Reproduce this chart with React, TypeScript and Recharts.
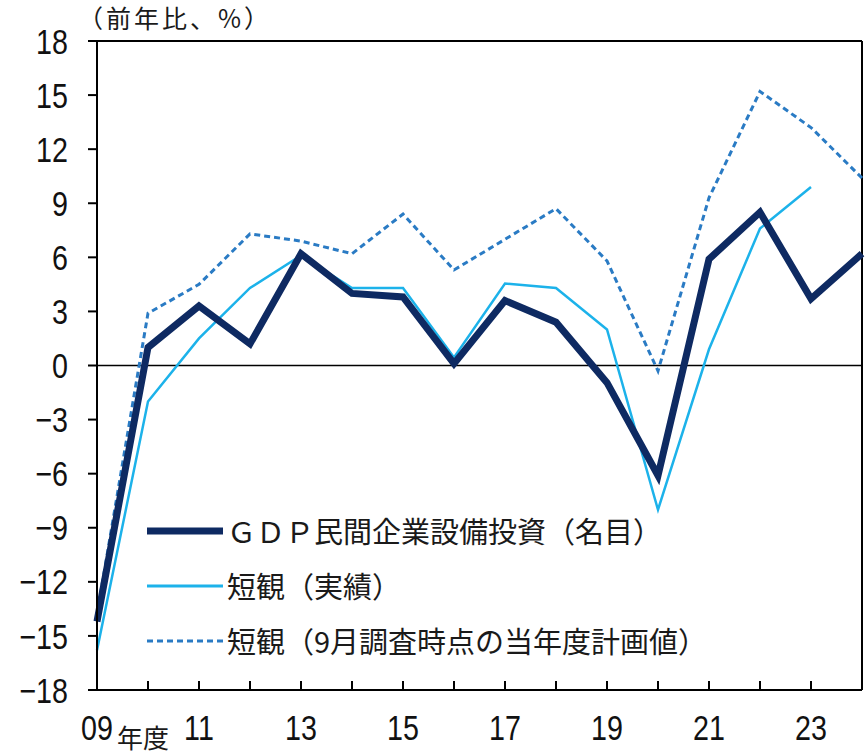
import { LineChart, Line, XAxis, YAxis, ReferenceLine, Legend } from 'recharts';

const years = [2009, 2010, 2011, 2012, 2013, 2014, 2015, 2016, 2017, 2018, 2019, 2020, 2021, 2022, 2023, 2024];
const gdpInvestment = [-14.2, 1.0, 3.3, 1.2, 6.2, 4.0, 3.8, 0.1, 3.6, 2.4, -0.95, -6.1, 5.9, 8.5, 3.7, 6.2];
const tankanActual = [-15.8, -2.0, 1.5, 4.3, 6.1, 4.3, 4.3, 0.45, 4.55, 4.3, 2.0, -8.0, 0.9, 7.6, 9.9, null];
const tankanPlan = [-13.8, 2.9, 4.5, 7.3, 6.9, 6.2, 8.4, 5.3, 7.0, 8.7, 5.8, -0.3, 9.3, 15.2, 13.2, 10.4];
const yTicks = [-18, -15, -12, -9, -6, -3, 0, 3, 6, 9, 12, 15, 18];

const data = years.map((year, i) => ({
  year,
  gdp: gdpInvestment[i],
  actual: tankanActual[i],
  plan: tankanPlan[i],
}));

const NAVY = '#0E2A62';
const SKY = '#1CB2EA';
const BLUE = '#2A7BC4';
const tickFont = "'Liberation Sans', Arial, sans-serif";
const cjkFont = "'Noto Sans CJK JP', sans-serif";

const legendItems = [
  { label: 'ＧＤＰ民間企業設備投資（名目）', color: NAVY, width: 7, dash: undefined },
  { label: '短観（実績）', color: SKY, width: 3, dash: undefined },
  { label: '短観（9月調査時点の当年度計画値）', color: BLUE, width: 3, dash: '6 4' },
];

function LegendBox() {
  return (
    <div style={{ fontFamily: cjkFont, fontSize: 29, color: '#1a1a1a' }}>
      {legendItems.map((item) => (
        <div key={item.label} style={{ display: 'flex', alignItems: 'center', height: 55 }}>
          <svg width={80} height={20} style={{ flex: 'none' }}>
            <line x1={0} y1={10} x2={76} y2={10} stroke={item.color} strokeWidth={item.width} strokeDasharray={item.dash} />
          </svg>
          <span style={{ whiteSpace: 'nowrap', lineHeight: 1 }}>{item.label}</span>
        </div>
      ))}
    </div>
  );
}

// condensed-looking tick text (narrow digits like the original)
function NarrowTick(props: any) {
  const { x, y, payload, tickFormatter, textAnchor, vertical } = props;
  const label = tickFormatter ? tickFormatter(payload.value) : payload.value;
  if (label === '') return null;
  return (
    <text
      x={x}
      y={y}
      dy={vertical ? '0.36em' : '0.71em'}
      textAnchor={textAnchor}
      fontFamily={tickFont}
      fontSize={35}
      fill="#111"
      transform={`translate(${x},${y}) scale(0.82,1) translate(${-x},${-y})`}
    >
      {label}
    </text>
  );
}

const fmtYear = (v: number) => (v % 2 === 1 ? String(v % 100).padStart(2, '0') : '');
const fmtPct = (v: number) => (v < 0 ? '\u2212' + Math.abs(v) : String(v));

export default function App() {
  return (
    <div style={{ position: 'absolute', left: 0, top: 0, width: 865, height: 754, background: '#fff' }}>
      <div style={{ position: 'absolute', left: 78, top: 2, fontFamily: cjkFont, fontSize: 25, letterSpacing: 3, color: '#1a1a1a', lineHeight: 1.2 }}>
        （前年比、%）
      </div>
      <div style={{ position: 'absolute', left: 117, top: 724, fontFamily: cjkFont, fontSize: 26, color: '#1a1a1a', lineHeight: 1 }}>
        年度
      </div>
      <LineChart width={865} height={754} data={data} margin={{ top: 41, right: 3, bottom: 0, left: 0 }}>
        <XAxis
          dataKey="year"
          type="number"
          domain={[2009, 2024]}
          ticks={years}
          interval={0}
          tickFormatter={fmtYear}
          height={64}
          tickSize={-9}
          tickMargin={34}
          axisLine={{ stroke: '#000', strokeWidth: 2 }}
          tickLine={{ stroke: '#000', strokeWidth: 2 }}
          tick={<NarrowTick />}
        />
        <YAxis
          type="number"
          domain={[-18, 18]}
          ticks={yTicks}
          interval={0}
          tickFormatter={fmtPct}
          width={97}
          tickSize={9}
          tickMargin={20}
          axisLine={{ stroke: '#000', strokeWidth: 2 }}
          tickLine={{ stroke: '#000', strokeWidth: 2 }}
          tick={<NarrowTick vertical />}
        />
        <ReferenceLine y={18} stroke="#000" strokeWidth={2} />
        <ReferenceLine x={2024} stroke="#000" strokeWidth={2} />
        <ReferenceLine y={0} stroke="#000" strokeWidth={1.5} />
        <Line dataKey="plan" stroke={BLUE} strokeWidth={3} strokeDasharray="6 4" dot={false} isAnimationActive={false} />
        <Line dataKey="actual" stroke={SKY} strokeWidth={2.5} dot={false} isAnimationActive={false} />
        <Line dataKey="gdp" stroke={NAVY} strokeWidth={7} dot={false} isAnimationActive={false} />
        <Legend
          layout="vertical"
          verticalAlign="middle"
          align="center"
          content={() => <LegendBox />}
          wrapperStyle={{ left: 147, top: 503, width: 640 }}
        />
      </LineChart>
    </div>
  );
}
